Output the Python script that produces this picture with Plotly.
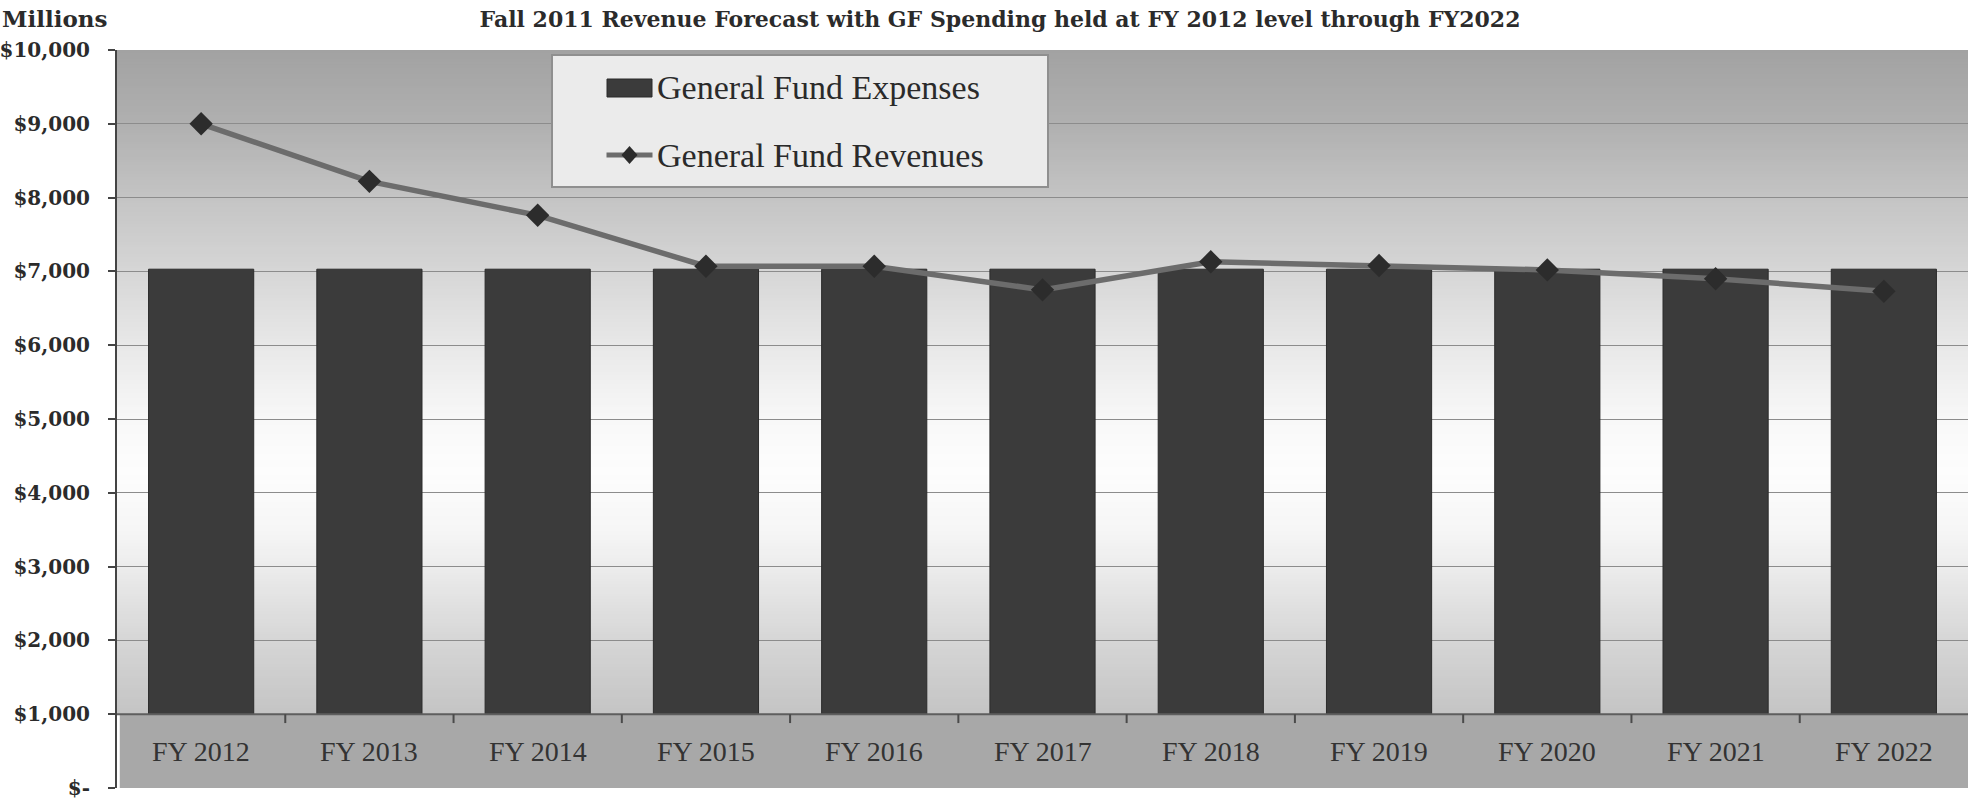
import plotly.graph_objects as go

# ---- data (millions of dollars) ----
categories = ["FY 2012", "FY 2013", "FY 2014", "FY 2015", "FY 2016", "FY 2017",
              "FY 2018", "FY 2019", "FY 2020", "FY 2021", "FY 2022"]
expenses = [7030, 7030, 7030, 7030, 7030, 7030, 7030, 7030, 7030, 7030, 7030]
revenues = [9000, 8220, 7760, 7070, 7070, 6750, 7130, 7080, 7020, 6900, 6730]
y_tick_values = [0, 1000, 2000, 3000, 4000, 5000, 6000, 7000, 8000, 9000, 10000]
y_tick_labels = ["$-", "$1,000", "$2,000", "$3,000", "$4,000", "$5,000",
                 "$6,000", "$7,000", "$8,000", "$9,000", "$10,000"]
series_names = ["General Fund Expenses", "General Fund Revenues"]
title_text = "Fall 2011 Revenue Forecast with GF Spending held at FY 2012 level through FY2022"

# ---- page geometry (pixels) ----
W, H = 1975, 799
L, R, T, B = 117, 7, 50, 11
PW, PH = W - L - R, H - T - B


def px_x(p):
    return (p - L) / PW


def px_y(p):
    return (H - B - p) / PH


BOLD_SERIF = "DejaVu Serif"
SERIF = "Liberation Serif"

fig = go.Figure()

fig.add_trace(go.Bar(
    x=categories, y=expenses, name=series_names[0], width=0.625,
    marker=dict(color="#3b3b3b", line=dict(color="#2b2b2b", width=1)),
    showlegend=False,
))
fig.add_trace(go.Scatter(
    x=categories, y=revenues, name=series_names[1], mode="lines+markers",
    line=dict(color="#6c6c6c", width=5.5),
    marker=dict(symbol="diamond", size=18, color="#2c2c2c"),
    showlegend=False,
))

shapes = []

# vertical gray gradient behind the plot (grey at top, near white mid-height)
grad_stops = [(1000, 196), (2000, 214), (3000, 236), (3500, 246), (4300, 253),
              (5000, 248), (6000, 232), (7000, 214), (8000, 196), (9000, 176),
              (10000, 162)]


def grey_at(v):
    for (v0, g0), (v1, g1) in zip(grad_stops[:-1], grad_stops[1:]):
        if v0 <= v <= v1:
            t = (v - v0) / (v1 - v0)
            return round(g0 + (g1 - g0) * t)
    return grad_stops[-1][1]


# overlapping bands so no seams show between them
step = 40
v = 1000
while v < 10000:
    g = grey_at(v + step / 2)
    shapes.append(dict(type="rect", xref="paper", yref="y", x0=0, x1=1,
                       y0=v, y1=min(v + 3 * step, 10000), layer="below",
                       line=dict(width=0), fillcolor=f"rgb({g},{g},{g})"))
    v += step

# floor band below the category axis
shapes.append(dict(type="rect", xref="paper", yref="y", x0=0.0015, x1=1,
                   y0=0, y1=1000, layer="above", line=dict(width=0),
                   fillcolor="#a8a8a8"))
# category axis line sitting at $1,000
shapes.append(dict(type="line", xref="paper", yref="y", x0=0, x1=1,
                   y0=1000, y1=1000, layer="above",
                   line=dict(color="#5e5e5e", width=2)))
# tick marks between categories
for i in range(len(categories) - 1):
    shapes.append(dict(type="line", xref="x", yref="y", x0=i + 0.5, x1=i + 0.5,
                       y0=1000, y1=880, layer="above",
                       line=dict(color="#4a4a4a", width=2)))

# legend box and swatches
shapes.append(dict(type="rect", xref="paper", yref="paper",
                   x0=px_x(552), x1=px_x(1048), y0=px_y(187), y1=px_y(55),
                   layer="above", fillcolor="#ebebeb",
                   line=dict(color="#8f8f8f", width=2)))
sw_x = px_x(629.5)
row1, row2 = px_y(88), px_y(155)
shapes.append(dict(type="rect", xref="paper", yref="paper",
                   xsizemode="pixel", ysizemode="pixel",
                   xanchor=sw_x, yanchor=row1, x0=-22.5, x1=22.5, y0=-9, y1=9,
                   layer="above", fillcolor="#3b3b3b",
                   line=dict(color="#2b2b2b", width=1)))
shapes.append(dict(type="line", xref="paper", yref="paper",
                   xsizemode="pixel", ysizemode="pixel",
                   xanchor=sw_x, yanchor=row2, x0=-23, x1=23, y0=0, y1=0,
                   layer="above", line=dict(color="#6c6c6c", width=5)))
shapes.append(dict(type="path", xref="paper", yref="paper",
                   xsizemode="pixel", ysizemode="pixel",
                   xanchor=sw_x, yanchor=row2,
                   path="M0,9 L8,0 L0,-9 L-8,0 Z",
                   layer="above", fillcolor="#2c2c2c", line=dict(width=0)))

annotations = []
for name, yy in zip(series_names, [row1, row2]):
    annotations.append(dict(text=name, xref="paper", yref="paper",
                            x=px_x(655), y=yy, xanchor="left", yanchor="middle",
                            showarrow=False,
                            font=dict(family=SERIF, size=34, color="#2a2a2a")))

# category labels inside the floor band
for c in categories:
    annotations.append(dict(text=c, xref="x", yref="y", x=c, y=500,
                            xanchor="center", yanchor="middle", showarrow=False,
                            font=dict(family=SERIF, size=28, color="#333333")))

annotations.append(dict(text="Millions", xref="paper", yref="paper",
                        x=px_x(0), y=px_y(19), xanchor="left", yanchor="middle",
                        showarrow=False,
                        font=dict(family=BOLD_SERIF, size=23, color="#2b2b2b",
                                  weight="bold")))

fig.update_layout(
    width=W, height=H,
    margin=dict(l=L, r=R, t=T, b=B, autoexpand=False),
    paper_bgcolor="white", plot_bgcolor="white",
    title=dict(text=title_text, x=1000 / W, xanchor="center",
               y=1 - 19 / H, yanchor="middle", yref="container",
               font=dict(family=BOLD_SERIF, size=22, color="#2b2b2b",
                         weight="bold")),
    bargap=0.375,
    shapes=shapes,
    annotations=annotations,
    xaxis=dict(type="category", range=[-0.5, len(categories) - 0.5],
               showticklabels=False, ticks="", showgrid=False,
               showline=False, zeroline=False, automargin=False),
    yaxis=dict(range=[0, 10000], tickvals=y_tick_values, ticktext=y_tick_labels,
               ticks="outside", ticklen=7, tickwidth=2, tickcolor="#444444",
               showline=True, linecolor="#444444", linewidth=2,
               showgrid=True, gridcolor="#8c8c8c", gridwidth=1,
               zeroline=False, ticklabelstandoff=14, automargin=False,
               ticklabeloverflow="allow",
               tickfont=dict(family=BOLD_SERIF, size=20, color="#2b2b2b",
                             weight="bold")),
    showlegend=False,
)

fig.write_html("out.html")
